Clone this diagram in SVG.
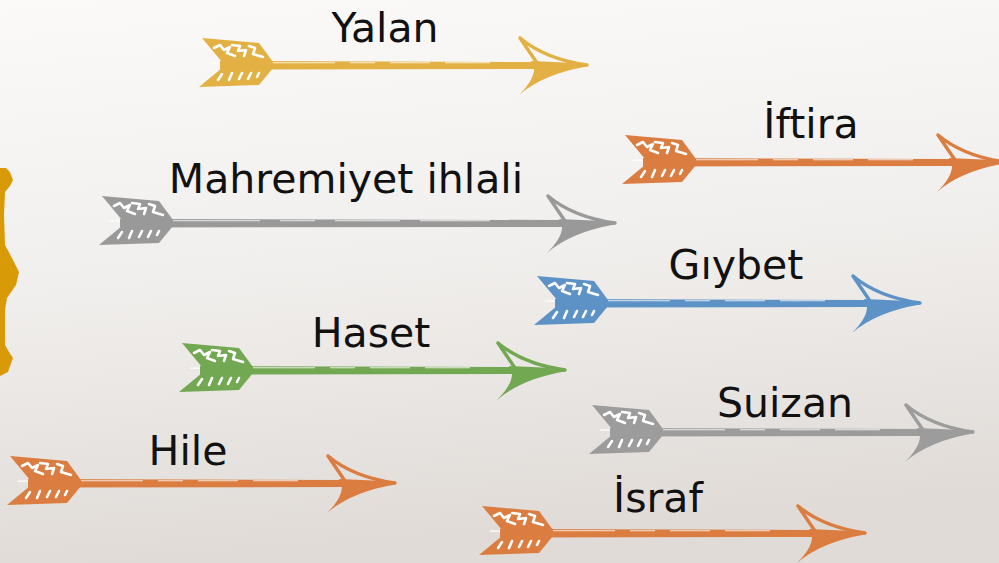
<svg xmlns="http://www.w3.org/2000/svg" xmlns:xlink="http://www.w3.org/1999/xlink" width="999" height="563" viewBox="0 0 999 563">
<defs>
<linearGradient id="bg" x1="0" y1="0" x2="0.15" y2="1">
<stop offset="0" stop-color="#FBFAF9"/>
<stop offset="0.5" stop-color="#F1EFED"/>
<stop offset="1" stop-color="#E0DBD7"/>
</linearGradient>
<g id="fl">
<path d="M2,-27 L59,-22 L73,-3 L22,-3 Z"/>
<path d="M22,3 L73,3 L59,20 L-1,22 Z"/>
<path d="M14,-17 L20,-20 L24,-15 L30,-18 L27,-12 L35,-9 M32,-20 L40,-19 L38,-14 L46,-15 L44,-9 M49,-19 L55,-17 L53,-11 L63,-8" fill="none" stroke="#fff" stroke-width="2.6" stroke-linejoin="round" stroke-linecap="round"/>
<path d="M18,15 L22,9 M29,15 L32,8 M39,14 L42,8 M48,14 L51,8 M57,12 L59,8" fill="none" stroke="#fff" stroke-width="2.6" stroke-linecap="round"/>
<path d="M10,-1.8 L72,-1.8" stroke="#fff" stroke-width="1.3"/>
</g>
<g id="hd">
<path d="M-67,-27 Q-42,-6 0,0 M-67,-27 L-50,-2" fill="none" stroke="currentColor" stroke-width="3.4" stroke-linecap="round"/>
<path d="M-56,-4 L0,-1.5 L0,1.5 Q-44,9 -68,30 Q-53,15 -53,4 Z"/>
</g>
</defs>
<style>
text{font-family:"DejaVu Sans","Liberation Sans",sans-serif;font-size:41px;fill:#111;text-anchor:middle}
.sh{stroke:#fff;stroke-width:1.1;opacity:.8}
</style>
<rect width="999" height="563" fill="url(#bg)"/>
<path id="blob" d="M0,168 L6,168 L10,172 L13,180 L10,186 L5,192 L4,215 L5,245 L12,258 L19,272 L16,285 L7,298 L5,310 L5,345 L9,352 L13,358 L10,366 L8,372 L0,376 Z" fill="#D99A08"/>

<g id="yalan" color="#E3B043" fill="#E3B043">
<g transform="translate(200,65)">
<use href="#fl"/>
<path d="M20,-4 L336,-3 L336,4 L20,4.5 Z"/>
<path class="sh" d="M73,-2.3 L135,-2.3 M150,-2.3 L175,-2.3 M190,-2.3 L230,-2.3 M245,-2.3 L290,-2.3"/>
<use href="#hd" transform="translate(387,0)"/>
</g>
<text x="385" y="42">Yalan</text>
</g>

<g id="iftira" color="#DB7D40" fill="#DB7D40">
<g transform="translate(623,162)">
<use href="#fl"/>
<path d="M20,-4 L331,-3 L331,4 L20,4.5 Z"/>
<path class="sh" d="M73,-2.3 L135,-2.3 M150,-2.3 L175,-2.3 M190,-2.3 L230,-2.3 M245,-2.3 L290,-2.3"/>
<use href="#hd" transform="translate(382,0)"/>
</g>
<text x="811" y="138">İftira</text>
</g>

<g id="mahremiyet" color="#999999" fill="#999999">
<g transform="translate(100,223)">
<use href="#fl"/>
<path d="M20,-4 L464,-3 L464,4 L20,4.5 Z"/>
<path class="sh" d="M73,-2.3 L160,-2.3 M180,-2.3 L215,-2.3 M235,-2.3 L300,-2.3 M320,-2.3 L390,-2.3"/>
<use href="#hd" transform="translate(515,0)"/>
</g>
<text x="346" y="193">Mahremiyet ihlali</text>
</g>

<g id="giybet" color="#5D92C6" fill="#5D92C6">
<g transform="translate(535,303)">
<use href="#fl"/>
<path d="M20,-4 L334,-3 L334,4 L20,4.5 Z"/>
<path class="sh" d="M73,-2.3 L135,-2.3 M150,-2.3 L175,-2.3 M190,-2.3 L230,-2.3 M245,-2.3 L290,-2.3"/>
<use href="#hd" transform="translate(385,0)"/>
</g>
<text x="736" y="279">Gıybet</text>
</g>

<g id="haset" color="#73A853" fill="#73A853">
<g transform="translate(180,370)">
<use href="#fl"/>
<path d="M20,-4 L334,-3 L334,4 L20,4.5 Z"/>
<path class="sh" d="M73,-2.3 L135,-2.3 M150,-2.3 L175,-2.3 M190,-2.3 L230,-2.3 M245,-2.3 L290,-2.3"/>
<use href="#hd" transform="translate(385,0)"/>
</g>
<text x="371" y="347">Haset</text>
</g>

<g id="suizan" color="#9C9C9C" fill="#9C9C9C">
<g transform="translate(590,432)">
<use href="#fl"/>
<path d="M20,-4 L332,-3 L332,4 L20,4.5 Z"/>
<path class="sh" d="M73,-2.3 L135,-2.3 M150,-2.3 L175,-2.3 M190,-2.3 L230,-2.3 M245,-2.3 L290,-2.3"/>
<use href="#hd" transform="translate(383,0)"/>
</g>
<text x="785" y="417">Suizan</text>
</g>

<g id="hile" color="#DB7D40" fill="#DB7D40">
<g transform="translate(8,483)">
<use href="#fl"/>
<path d="M20,-4 L336,-3 L336,4 L20,4.5 Z"/>
<path class="sh" d="M73,-2.3 L135,-2.3 M150,-2.3 L175,-2.3 M190,-2.3 L230,-2.3 M245,-2.3 L290,-2.3"/>
<use href="#hd" transform="translate(387,0)"/>
</g>
<text x="188" y="465">Hile</text>
</g>

<g id="israf" color="#DB7D40" fill="#DB7D40">
<g transform="translate(480,533)">
<use href="#fl"/>
<path d="M20,-4 L334,-3 L334,4 L20,4.5 Z"/>
<path class="sh" d="M73,-2.3 L135,-2.3 M150,-2.3 L175,-2.3 M190,-2.3 L230,-2.3 M245,-2.3 L290,-2.3"/>
<use href="#hd" transform="translate(385,0)"/>
</g>
<text x="658" y="512">İsraf</text>
</g>
</svg>
